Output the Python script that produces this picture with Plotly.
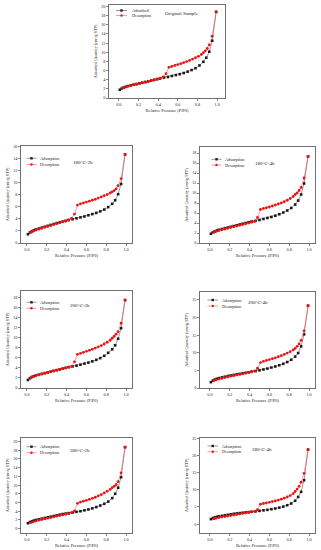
import plotly.graph_objects as go

W, H = 321, 550

# ---------------- data ----------------
ads_p = [0.01, 0.03, 0.05, 0.07, 0.09, 0.12, 0.15, 0.18, 0.21, 0.24, 0.27, 0.30, 0.33, 0.36, 0.39,
         0.42, 0.46, 0.50, 0.54, 0.58, 0.62, 0.66, 0.70, 0.74, 0.78, 0.82, 0.86, 0.89, 0.92, 0.95, 0.99]
des_p = [0.99, 0.95, 0.92, 0.90, 0.88, 0.86, 0.84, 0.81, 0.78, 0.75, 0.72, 0.69, 0.66, 0.63, 0.60, 0.57,
         0.54, 0.51, 0.48, 0.45, 0.42, 0.39, 0.36, 0.33, 0.30, 0.27, 0.24, 0.21, 0.18, 0.15, 0.12, 0.09,
         0.06, 0.04]

titles = ["Original Sample", "180°C-2h", "180°C-4h", "200°C-2h", "200°C-4h", "280°C-2h", "280°C-4h"]
ads_names = ["Adsorbed", "Adsorption", "Adsorption", "Adsorption", "Adsorption", "Adsorption", "Adsorption"]
des_name = "Desorption"

ads_orig = [1.8, 2.1, 2.3, 2.45, 2.6, 2.75, 2.9, 3.05, 3.2, 3.35, 3.5, 3.65, 3.8, 3.95, 4.1, 4.25, 4.45,
            4.6, 4.8, 5.0, 5.2, 5.45, 5.75, 6.1, 6.5, 7.1, 7.9, 8.8, 10.1, 12.5, 18.8]
des_orig = [18.8, 13.5, 11.6, 10.8, 10.3, 9.9, 9.5, 9.1, 8.8, 8.5, 8.2, 7.95, 7.7, 7.5, 7.3, 7.1, 6.9,
            6.7, 5.3, 4.6, 4.35, 4.15, 3.95, 3.8, 3.6, 3.45, 3.3, 3.15, 3.0, 2.85, 2.7, 2.55, 2.35, 2.2]

ads_180_2 = [1.45, 1.75, 1.95, 2.1, 2.25, 2.4, 2.55, 2.7, 2.85, 3.0, 3.15, 3.3, 3.42, 3.55, 3.67, 3.8,
             3.95, 4.1, 4.25, 4.4, 4.6, 4.8, 5.0, 5.25, 5.55, 5.95, 6.5, 7.1, 8.1, 9.8, 14.7]
des_180_2 = [14.7, 10.7, 9.5, 9.0, 8.7, 8.5, 8.3, 8.05, 7.85, 7.65, 7.45, 7.25, 7.1, 6.95, 6.8, 6.65,
             6.5, 6.3, 4.8, 4.1, 3.85, 3.65, 3.5, 3.35, 3.2, 3.05, 2.9, 2.75, 2.6, 2.45, 2.3, 2.15, 1.95, 1.8]

ads_180_4 = [1.85, 2.15, 2.35, 2.5, 2.65, 2.8, 2.95, 3.1, 3.25, 3.4, 3.55, 3.7, 3.85, 4.0, 4.15, 4.3,
             4.45, 4.6, 4.8, 5.0, 5.2, 5.45, 5.75, 6.1, 6.5, 7.0, 7.7, 8.5, 9.7, 11.9, 17.3]
des_180_4 = [17.3, 13.0, 11.1, 10.5, 10.0, 9.7, 9.3, 8.9, 8.55, 8.25, 8.0, 7.8, 7.6, 7.4, 7.2, 7.05,
             6.9, 6.7, 5.1, 4.3, 4.15, 4.0, 3.85, 3.7, 3.55, 3.4, 3.25, 3.1, 2.95, 2.8, 2.65, 2.5, 2.3, 2.15]

ads_200_2 = [1.6, 1.95, 2.2, 2.35, 2.5, 2.65, 2.8, 2.95, 3.1, 3.25, 3.4, 3.55, 3.7, 3.85, 4.0, 4.15,
             4.3, 4.45, 4.65, 4.85, 5.05, 5.3, 5.6, 5.95, 6.4, 7.0, 7.7, 8.5, 9.8, 11.9, 17.5]
des_200_2 = [17.5, 12.9, 11.2, 10.7, 10.3, 9.9, 9.5, 9.1, 8.75, 8.45, 8.2, 7.95, 7.7, 7.5, 7.3, 7.1,
             6.9, 6.7, 5.2, 4.3, 4.15, 4.0, 3.85, 3.7, 3.55, 3.4, 3.25, 3.1, 2.95, 2.8, 2.6, 2.45, 2.25, 2.05]

ads_200_4 = [1.65, 2.1, 2.4, 2.6, 2.8, 3.0, 3.2, 3.4, 3.55, 3.7, 3.85, 4.0, 4.15, 4.3, 4.45, 4.6,
             4.8, 5.0, 5.25, 5.5, 5.8, 6.1, 6.45, 6.85, 7.35, 8.0, 8.9, 9.9, 11.8, 15.2, 23.3]
des_200_4 = [23.3, 16.2, 13.5, 12.5, 11.8, 11.2, 10.8, 10.3, 9.9, 9.5, 9.15, 8.85, 8.55, 8.3, 8.05, 7.8,
             7.55, 7.2, 5.6, 4.8, 4.6, 4.4, 4.2, 4.0, 3.85, 3.7, 3.5, 3.35, 3.15, 2.95, 2.75, 2.55, 2.3, 2.1]

ads_280_2 = [1.25, 1.5, 1.7, 1.85, 2.0, 2.15, 2.3, 2.45, 2.6, 2.75, 2.9, 3.05, 3.2, 3.35, 3.45, 3.55,
             3.7, 3.85, 4.0, 4.2, 4.4, 4.65, 4.95, 5.3, 5.7, 6.2, 7.0, 8.0, 9.4, 11.8, 18.7]
des_280_2 = [18.7, 12.8, 10.8, 10.1, 9.7, 9.4, 9.0, 8.6, 8.2, 7.8, 7.5, 7.2, 6.95, 6.7, 6.5, 6.3,
             6.1, 5.8, 4.1, 3.65, 3.45, 3.3, 3.15, 3.0, 2.85, 2.7, 2.55, 2.4, 2.25, 2.1, 1.95, 1.75, 1.55, 1.4]

ads_280_4 = [1.45, 1.75, 1.95, 2.1, 2.25, 2.4, 2.55, 2.7, 2.85, 3.0, 3.1, 3.2, 3.3, 3.4, 3.5, 3.6,
             3.7, 3.85, 4.0, 4.15, 4.35, 4.55, 4.8, 5.1, 5.5, 6.0, 6.8, 7.9, 9.4, 12.8, 21.7]
des_280_4 = [21.7, 14.8, 12.2, 11.0, 10.2, 9.5, 8.9, 8.3, 7.9, 7.55, 7.25, 7.0, 6.75, 6.55, 6.35, 6.15,
             6.0, 5.8, 4.2, 3.7, 3.55, 3.4, 3.25, 3.1, 2.95, 2.8, 2.65, 2.5, 2.35, 2.2, 2.05, 1.9, 1.7, 1.55]

x_ticks = [0.0, 0.2, 0.4, 0.6, 0.8, 1.0]

ads_all = [ads_orig, ads_180_2, ads_180_4, ads_200_2, ads_200_4, ads_280_2, ads_280_4]
des_all = [des_orig, des_180_2, des_180_4, des_200_2, des_200_4, des_280_2, des_280_4]

# ---------------- layout (pixels) ----------------
boxes = [(109, 225, 5, 98), (21, 132, 146, 243), (200, 315, 147, 243), (21, 132, 291, 388),
         (200, 315, 292, 388), (21, 132, 438, 533), (200, 315, 438, 533)]
y_ranges = [[0, 20.3], [0, 16.1], [0, 19.2], [0, 19.3], [0, 27.2], [-1.0, 20.8], [-2.6, 25.1]]
x_ranges = [[-0.1, 1.08], [-0.06, 1.06], [-0.1, 1.06], [-0.06, 1.06], [-0.1, 1.06], [-0.06, 1.06], [-0.1, 1.06]]
y_dticks = [2, 2, 2, 2, 5, 2, 5]
# legend: (line x0, line x1, text x, row1 y, row2 y); title: (x, y)
legend_pos = [(116, 127, 130, 10.5, 15.5), (26.5, 36.5, 38, 158.3, 164.5), (211.5, 221.5, 223, 159.3, 165),
              (26.5, 36.5, 38, 302.3, 308.3), (207.5, 218, 219.5, 300, 306), (26.5, 36.5, 38, 446.7, 452.7),
              (207.5, 218, 219.5, 446, 451.7)]
title_pos = [(182, 13), (83, 162.7), (265, 163.3), (80, 305.7), (258.3, 302.3), (80, 450.7), (261.7, 449.3)]

FONT = "Liberation Serif, Times New Roman, serif"
BLACK_LINE = "#555555"
BLACK_MK = "#1a1a1a"
RED_LINE = "#ff5a5a"
RED_MK = "#ee1111"


def px(x):
    return x / W


def py(y):
    return 1 - y / H


fig = go.Figure()
shapes = []
annotations = []

for i in range(7):
    sfx = "" if i == 0 else str(i + 1)
    xa, ya = "x" + sfx, "y" + sfx
    fig.add_trace(go.Scatter(x=ads_p, y=ads_all[i], mode="lines+markers", name=ads_names[i],
                             xaxis=xa, yaxis=ya, showlegend=False,
                             line=dict(color=BLACK_LINE, width=0.6),
                             marker=dict(symbol="square", size=2.6, color=BLACK_MK)))
    fig.add_trace(go.Scatter(x=des_p, y=des_all[i], mode="lines+markers", name=des_name,
                             xaxis=xa, yaxis=ya, showlegend=False,
                             line=dict(color=RED_LINE, width=0.6),
                             marker=dict(symbol="circle", size=2.8, color=RED_MK)))
    l, r, t, b = boxes[i]
    common = dict(showline=True, linecolor="#333333", linewidth=0.7, mirror=True, ticks="outside",
                  ticklen=2, tickwidth=0.6, tickcolor="#333333", showgrid=False, zeroline=False,
                  automargin=False,
                  tickfont=dict(family=FONT, size=4.2, color="#222"))
    fig.layout["xaxis" + sfx] = dict(domain=[px(l), px(r)], anchor=ya, range=x_ranges[i],
                                     tickvals=x_ticks, tickformat=".1f",
                                     title=dict(text="Relative Pressure (P/P0)", standoff=3,
                                                font=dict(family=FONT, size=4.4, color="#222")),
                                     **common)
    fig.layout["yaxis" + sfx] = dict(domain=[py(b), py(t)], anchor=xa, range=y_ranges[i],
                                     tick0=0, dtick=y_dticks[i],
                                     title=dict(text="Adsorbed Quantity (cm³/g STP)", standoff=3,
                                                font=dict(family=FONT, size=4.2, color="#222")),
                                     **common)
    # legend drawn as shapes + text
    lx0, lx1, tx, r1, r2 = legend_pos[i]
    for (yy, lc, mc, sym, txt) in [(r1, BLACK_LINE, BLACK_MK, "rect", ads_names[i]),
                                   (r2, RED_LINE, RED_MK, "circle", des_name)]:
        shapes.append(dict(type="line", xref="paper", yref="paper", x0=px(lx0), x1=px(lx1),
                           y0=py(yy), y1=py(yy), line=dict(color=lc, width=0.6)))
        cx = (lx0 + lx1) / 2
        shapes.append(dict(type=sym, xref="paper", yref="paper", x0=px(cx - 1.2), x1=px(cx + 1.2),
                           y0=py(yy + 1.2), y1=py(yy - 1.2), fillcolor=mc, line=dict(width=0)))
        annotations.append(dict(text=txt, xref="paper", yref="paper", x=px(tx), y=py(yy),
                                xanchor="left", yanchor="middle", showarrow=False,
                                font=dict(family=FONT, size=4.3, color="#222")))
    annotations.append(dict(text=titles[i], xref="paper", yref="paper", x=px(title_pos[i][0]),
                            y=py(title_pos[i][1]), xanchor="center", yanchor="middle", showarrow=False,
                            font=dict(family=FONT, size=5.0, color="#222")))

fig.update_layout(width=W, height=H, margin=dict(l=0, r=0, t=0, b=0), paper_bgcolor="white",
                  plot_bgcolor="white", shapes=shapes, annotations=annotations, showlegend=False,
                  font=dict(family=FONT), hovermode=False)

fig.write_html("out.html", config={"displayModeBar": False, "staticPlot": True},
               post_script="document.body.style.margin='0';document.body.style.overflow='hidden';")
